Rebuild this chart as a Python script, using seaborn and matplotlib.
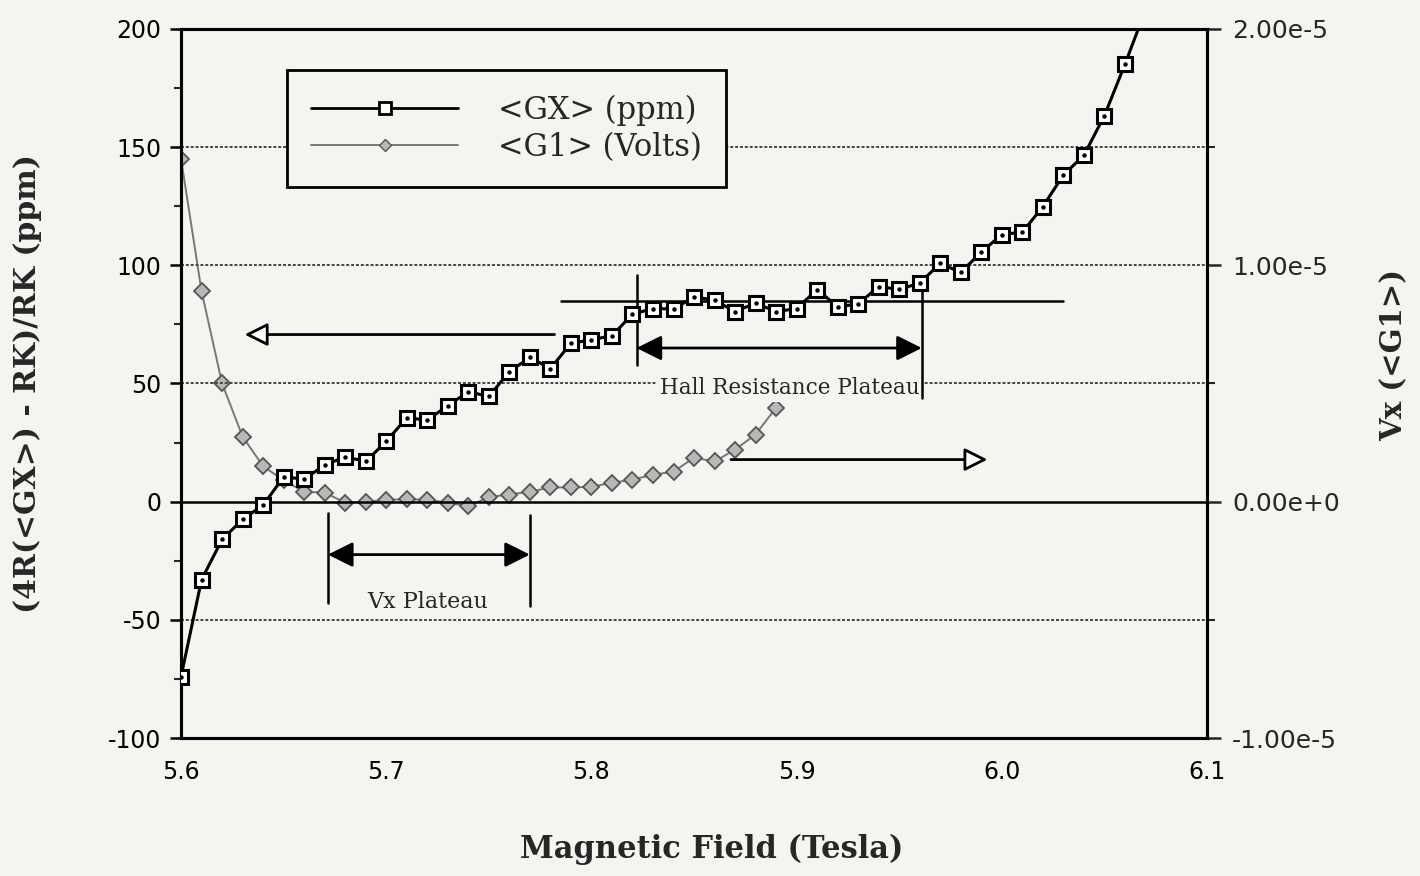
import numpy as np
import matplotlib
matplotlib.use("Agg")
import matplotlib.pyplot as plt
import seaborn as sns
from matplotlib.lines import Line2D
from matplotlib.ticker import MultipleLocator

# ============================================
# Data
# ============================================
field_gx = [5.60, 5.61, 5.62, 5.63, 5.64, 5.65, 5.66, 5.67, 5.68, 5.69,
            5.70, 5.71, 5.72, 5.73, 5.74, 5.75, 5.76, 5.77, 5.78, 5.79,
            5.80, 5.81, 5.82, 5.83, 5.84, 5.85, 5.86, 5.87, 5.88, 5.89,
            5.90, 5.91, 5.92, 5.93, 5.94, 5.95, 5.96, 5.97, 5.98, 5.99,
            6.00, 6.01, 6.02, 6.03, 6.04, 6.05, 6.06, 6.07]
gx_ppm = [-74, -33, -16, -7.5, -1.5, 10.5, 9.5, 15.5, 19, 17,
          25.5, 35.5, 34.5, 40.6, 46.5, 44.5, 55, 61, 56.3, 67,
          68.5, 70.2, 79.3, 81.7, 81.5, 86.6, 85.3, 80.4, 84, 80.4,
          81.7, 89.7, 82.5, 83.6, 91, 89.8, 92.5, 100.8, 97, 105.6,
          113, 114, 124.8, 138.2, 146.5, 163.3, 185, 208]

field_g1 = [5.60, 5.61, 5.62, 5.63, 5.64, 5.65, 5.66, 5.67, 5.68, 5.69,
            5.70, 5.71, 5.72, 5.73, 5.74, 5.75, 5.76, 5.77, 5.78, 5.79,
            5.80, 5.81, 5.82, 5.83, 5.84, 5.85, 5.86, 5.87, 5.88, 5.89]
g1_volts = [14.5e-6, 8.9e-6, 5.0e-6, 2.75e-6, 1.5e-6, 0.9e-6, 0.42e-6, 0.38e-6, -0.04e-6, 0.0,
            0.08e-6, 0.1e-6, 0.08e-6, -0.04e-6, -0.2e-6, 0.2e-6, 0.3e-6, 0.42e-6, 0.6e-6, 0.6e-6,
            0.63e-6, 0.8e-6, 0.93e-6, 1.14e-6, 1.27e-6, 1.86e-6, 1.7e-6, 2.2e-6, 2.84e-6, 3.98e-6]

left_ticks = [-100, -50, 0, 50, 100, 150, 200]
right_ticks = [-1e-5, 0.0, 1e-5, 2e-5]
right_labels = ["-1.00e-5", "0.00e+0", "1.00e-5", "2.00e-5"]
x_ticks = [5.6, 5.7, 5.8, 5.9, 6.0, 6.1]
x_labels = ["5.6", "5.7", "5.8", "5.9", "6.0", "6.1"]

# ============================================
# Style
# ============================================
sns.set_style("white")
bg = "#f4f4f0"
serif = ["DejaVu Serif"]
plt.rcParams['font.family'] = ['DejaVu Sans']

fig = plt.figure(figsize=(14.2, 8.76), dpi=100, facecolor=bg)
ax = fig.add_axes([0.1275, 0.1575, 0.7225, 0.8095])
ax2 = ax.twinx()

# grid lines (wavy dotted in the original)
for yv in [150, 100, 50, -50]:
    ax.axhline(yv, color="#444444", lw=1.4, ls=(0, (1.5, 1)), zorder=1)
ax.axhline(0, color="black", lw=1.8, zorder=1)

# ============================================
# Series
# ============================================
sns.lineplot(x=field_g1, y=g1_volts, ax=ax2, color="#777777", lw=1.4,
             marker="D", markersize=8, markerfacecolor="#b8b8b8",
             markeredgecolor="#555555", markeredgewidth=1.3, zorder=3)
sns.lineplot(x=field_gx, y=gx_ppm, ax=ax, color="black", lw=2.2,
             marker="s", markersize=10, markerfacecolor="white",
             markeredgecolor="black", markeredgewidth=2.2, zorder=5)
ax.plot(field_gx, gx_ppm, ls="none", marker="o", markersize=2.2,
        color="black", zorder=6)

# ============================================
# Axes
# ============================================
ax.set_xlim(5.6, 6.1)
ax.set_ylim(-100, 200)
ax2.set_ylim(-1e-5, 2e-5)
ax.set_xticks(x_ticks)
ax.set_xticklabels(x_labels)
ax.set_yticks(left_ticks)
ax.set_yticklabels([str(v) for v in left_ticks])
ax.xaxis.set_minor_locator(MultipleLocator(0.05))
ax.yaxis.set_minor_locator(MultipleLocator(25))
ax2.set_yticks(right_ticks)
ax2.set_yticklabels(right_labels)
ax2.yaxis.set_minor_locator(MultipleLocator(0.5e-5))

ax.tick_params(axis="both", which="major", direction="out", length=8, width=1.8,
               labelsize=17, colors="black", pad=6)
ax.tick_params(axis="both", which="minor", direction="out", length=5, width=1.5)
ax.tick_params(axis="x", which="major", pad=8)
ax2.tick_params(axis="y", which="major", direction="out", length=10, width=1.8,
                labelsize=18, pad=8)
ax2.tick_params(axis="y", which="minor", direction="out", length=6, width=1.5)

for a in (ax, ax2):
    for s in a.spines.values():
        s.set_color("black")
        s.set_linewidth(2.2)

ax.set_xlabel("Magnetic Field (Tesla)", family=serif, fontsize=22,
              fontweight="bold", labelpad=38)
ax.xaxis.set_label_coords(0.5175, -0.135)
ax.set_ylabel("(4R(<GX>) - RK)/RK (ppm)", family=serif, fontsize=21.5,
              fontweight="bold", labelpad=48)
ax2.set_ylabel("Vx (<G1>)", family=serif, fontsize=21, fontweight="bold")
ax2.yaxis.set_label_coords(1.168, 0.54)

# ============================================
# Annotations
# ============================================
# Hall resistance plateau
ax.plot([5.785, 6.030], [85, 85], color="black", lw=1.8, zorder=4)
ax.plot([5.822, 5.822], [96, 58], color="black", lw=1.8, zorder=4)
ax.plot([5.961, 5.961], [94, 44], color="black", lw=1.8, zorder=4)
ax.annotate("", xy=(5.822, 65), xytext=(5.961, 65),
            arrowprops=dict(arrowstyle="<|-|>", color="black", lw=2,
                            mutation_scale=38, shrinkA=0, shrinkB=0), zorder=4)
ax.text(5.8968, 48.2, "Hall Resistance Plateau", family=serif, fontsize=15.5,
        ha="center", va="center",
        bbox=dict(facecolor=bg, edgecolor="none", pad=2), zorder=3)

# Vx plateau
ax.plot([5.6716, 5.6716], [-4.7, -42.7], color="black", lw=1.8, zorder=4)
ax.plot([5.770, 5.770], [-5.5, -44], color="black", lw=1.8, zorder=4)
ax.annotate("", xy=(5.6716, -22.4), xytext=(5.770, -22.4),
            arrowprops=dict(arrowstyle="<|-|>", color="black", lw=2,
                            mutation_scale=38, shrinkA=0, shrinkB=0), zorder=4)
ax.text(5.7204, -42.5, "Vx Plateau", family=serif, fontsize=16,
        ha="center", va="center", zorder=4)

# axis indicator arrows
ax.annotate("", xy=(5.631, 70.7), xytext=(5.782, 70.7),
            arrowprops=dict(arrowstyle="-|>", fc="white", ec="black", lw=2,
                            mutation_scale=35, shrinkA=0, shrinkB=0), zorder=4)
ax.annotate("", xy=(5.993, 17.8), xytext=(5.868, 17.8),
            arrowprops=dict(arrowstyle="-|>", fc="white", ec="black", lw=2,
                            mutation_scale=35, shrinkA=0, shrinkB=0), zorder=4)

# ============================================
# Legend
# ============================================
handles = [
    Line2D([], [], color="black", lw=2, marker="s", markersize=8,
           markerfacecolor="white", markeredgecolor="black", markeredgewidth=2),
    Line2D([], [], color="#777777", lw=1.4, marker="D", markersize=6,
           markerfacecolor="#b8b8b8", markeredgecolor="#555555"),
]
leg = ax.legend(handles, ["<GX> (ppm)", "<G1> (Volts)"], loc="upper left",
                bbox_to_anchor=(0.103, 0.942), borderaxespad=0,
                fancybox=False, framealpha=1, facecolor=bg, edgecolor="black",
                handlelength=4.8, handletextpad=1.3, labelspacing=0.2,
                borderpad=0.8, prop=dict(family=serif, size=22))
leg.get_frame().set_linewidth(2)
leg.set_zorder(10)

ax.set_zorder(ax2.get_zorder() + 1)
ax.patch.set_visible(False)
ax2.set_facecolor(bg)

plt.savefig("out.png", dpi=100, facecolor=bg)
